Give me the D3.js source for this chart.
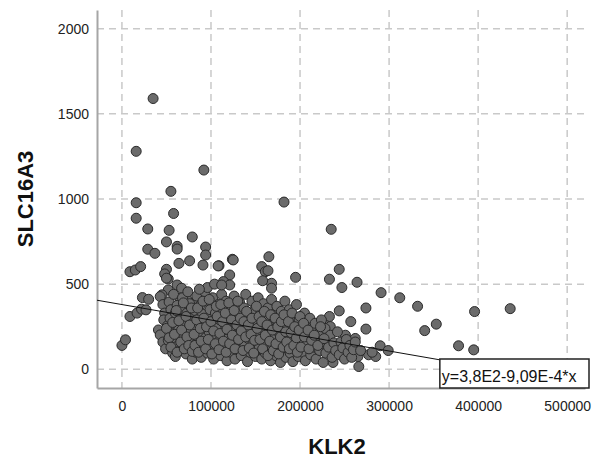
<!DOCTYPE html>
<html><head><meta charset="utf-8">
<script src="https://cdn.jsdelivr.net/npm/d3@7"></script>
<style>body{margin:0;background:#fff}svg{display:block}</style>
</head><body>
<script>
// KLK2 values in thousands, SLC16A3 values (parallel arrays, one line per group)
const klk2k = [
35,16,92,55,16,182,16,58,29,53,
235,79,50,62,62,29,37,94,94,91,
124,109,76,64,50,9,15,21,157,161,
165,164,195,244,233,247,264,291,312,332,
274,244,233,257,353,340,274,229,234,251,
262,290,299,378,395,396,436,265,277,285,
266,237,0,4,9,17,22,27,23,30,
108,125,121,114,121,168,168,48,158,52,
50,52,62,67,45,43,41,43,65,73,84,
46,48,47,51,46,49,53,55,54,56,
52,57,58,59,60,61,63,60,62,64,
66,65,68,67,69,70,71,72,73,74,
75,76,77,78,79,80,81,82,83,84,
85,86,87,88,89,90,91,92,93,94,
95,96,97,98,99,100,101,102,103,104,
105,106,107,108,109,110,111,112,113,114,
115,116,117,118,119,120,96,104,87,112,
121,122,123,124,125,126,127,128,129,130,
131,132,133,134,135,136,137,138,139,140,
141,142,143,144,145,146,147,148,149,150,
151,152,153,154,155,156,157,158,159,160,
161,162,163,164,165,166,167,168,169,170,
171,172,173,174,175,176,177,178,179,180,
181,182,183,184,185,186,187,188,189,190,
191,192,193,194,195,196,197,198,199,200,
202,203,205,206,207,208,210,211,212,214,
215,217,218,219,221,222,224,225,226,228,
229,231,232,234,236,238,240,242,244,246,
248,250,252,254,256,258,260,262,268,281,
50,53,55,57,59,61,62,64,66,67,
69,70,72,73,75,76,78,79,81,82,
84,85,86,88,89,91,92,94,95,97,
98,100,101,103,105,106,107,109,110,111,
113,114,116,117,118,120,121,123,124,126,
127,129,130,131,133,134,136,137,139,140,
142,143,145,146,148,149,151,152,154,155,
157,158,160,161,163,164,166,167,169,170,
172,173,175,176,178,179,181,182,184,185,
187,188,190,191,193,194,196,197,199,200,
201,204,205,209,210,213,216,220,223,227
];
const slc16a3 = [
1590,1280,1170,1045,978,982,887,915,824,816,
822,777,748,722,706,705,681,718,671,612,
646,608,637,622,587,573,583,603,603,573,
661,579,540,587,529,480,511,450,420,370,
360,343,310,280,265,227,236,257,251,200,
181,138,110,138,114,339,356,75,85,75,
16,40,140,173,310,330,353,349,421,411,
607,642,554,515,495,505,476,560,520,530,
535,466,495,476,437,427,231,202,417,407,407,
380,330,290,255,160,120,395,350,300,210,
170,95,440,265,330,180,140,75,375,240,
300,110,420,355,205,160,270,90,330,455,
225,385,135,300,60,190,250,345,100,430,
160,290,215,375,70,325,130,250,455,185,
400,95,300,220,350,145,265,420,60,190,
330,110,240,380,165,290,80,440,210,345,
130,260,400,50,180,310,480,500,470,495,
230,100,370,150,280,430,60,200,330,120,
255,395,170,80,300,215,360,135,440,240,
45,180,320,100,270,400,150,215,350,75,
290,190,420,125,250,330,60,170,385,230,
95,300,140,360,200,260,50,410,120,320,
180,240,80,370,150,280,210,40,340,110,
250,185,400,70,300,140,220,350,95,265,
170,45,310,205,125,380,240,75,290,160,
215,100,330,50,260,150,190,300,85,235,
130,270,60,175,210,110,290,150,40,240,
95,180,130,200,70,155,110,220,85,160,
125,60,175,100,140,70,115,160,110,100,
240,185,130,275,205,345,100,285,160,230,
390,120,310,190,140,260,360,105,205,140,
290,360,100,240,165,400,300,120,250,175,
410,280,90,225,150,370,310,115,210,380,
280,165,330,100,235,390,150,290,200,345,
120,260,400,175,300,225,110,280,190,340,
260,125,205,300,95,170,370,240,310,175,
280,120,340,200,260,80,165,320,230,110,
300,150,250,90,190,280,130,320,220,160,
280,120,215,330,140,250,185,100,230,310,
130,270,190,230,120,170,200,140,250,180
];
const xTicks = [0, 100000, 200000, 300000, 400000, 500000];
const yTicks = [0, 500, 1000, 1500, 2000];
const intercept = 380;      // 3,8E2
const slope = -9.09e-4;     // -9,09E-4
const equationLabel = "y=3,8E2-9,09E-4*x";
const xTitle = "KLK2", yTitle = "SLC16A3";

const W = 595, H = 459;
const svg = d3.select("body").append("svg").attr("width", W).attr("height", H);
const x = d3.scaleLinear().domain([-28000, 520000]).range([97, 585]);
const y = d3.scaleLinear().domain([-110, 2110]).range([388, 10]);
const font = "Arial, 'Liberation Sans', sans-serif";

// gridlines
svg.append("g").selectAll("line").data(yTicks).join("line")
  .attr("x1", 97).attr("x2", 585).attr("y1", d => y(d)).attr("y2", d => y(d))
  .attr("stroke", "#c9c9c9").attr("stroke-width", 1.5).attr("stroke-dasharray", "7,5");
svg.append("g").selectAll("line").data(xTicks).join("line")
  .attr("y1", 10).attr("y2", 388).attr("x1", d => x(d)).attr("x2", d => x(d))
  .attr("stroke", "#c9c9c9").attr("stroke-width", 1.5).attr("stroke-dasharray", "7,5");

// axes
const xAxis = svg.append("g").attr("transform", "translate(0,388)")
  .call(d3.axisBottom(x).tickValues(xTicks).tickSize(0).tickPadding(13).tickFormat(d3.format("d")));
const yAxis = svg.append("g").attr("transform", "translate(97,0)")
  .call(d3.axisLeft(y).tickValues(yTicks).tickSize(0).tickPadding(8).tickFormat(d3.format("d")));
[xAxis, yAxis].forEach(g => {
  g.select(".domain").attr("stroke", "#a6a6a6").attr("stroke-width", 2);
  g.selectAll("text").attr("font-family", font).attr("font-size", 14).attr("fill", "#222");
});

// points
const data = klk2k.map((k, i) => ({k: k * 1000, s: slc16a3[i]}));
svg.append("g").selectAll("circle").data(data).join("circle")
  .attr("cx", d => x(d.k)).attr("cy", d => y(d.s)).attr("r", 5)
  .attr("fill", "#6b6b6b").attr("stroke", "#2a2a2a").attr("stroke-width", 1);

// regression line
const [x0, x1] = x.domain();
svg.append("line")
  .attr("x1", x(x0)).attr("y1", y(intercept + slope * x0))
  .attr("x2", x(x1)).attr("y2", y(intercept + slope * x1))
  .attr("stroke", "#111").attr("stroke-width", 1);

// equation box
const bx = x(357000);
svg.append("rect").attr("x", bx).attr("y", 359).attr("width", 589 - bx).attr("height", 29)
  .attr("fill", "#fff").attr("stroke", "#222").attr("stroke-width", 1.5);
svg.append("text").attr("x", bx + 2).attr("y", 382).attr("font-family", font).attr("font-size", 16)
  .attr("fill", "#111").text(equationLabel);

// titles
svg.append("text").attr("x", 337).attr("y", 454).attr("text-anchor", "middle")
  .attr("font-family", font).attr("font-size", 22).attr("font-weight", "bold").attr("fill", "#111").text(xTitle);
svg.append("text").attr("transform", "translate(33,199) rotate(-90)").attr("text-anchor", "middle")
  .attr("font-family", font).attr("font-size", 22).attr("font-weight", "bold").attr("fill", "#111").text(yTitle);
</script>
</body></html>
